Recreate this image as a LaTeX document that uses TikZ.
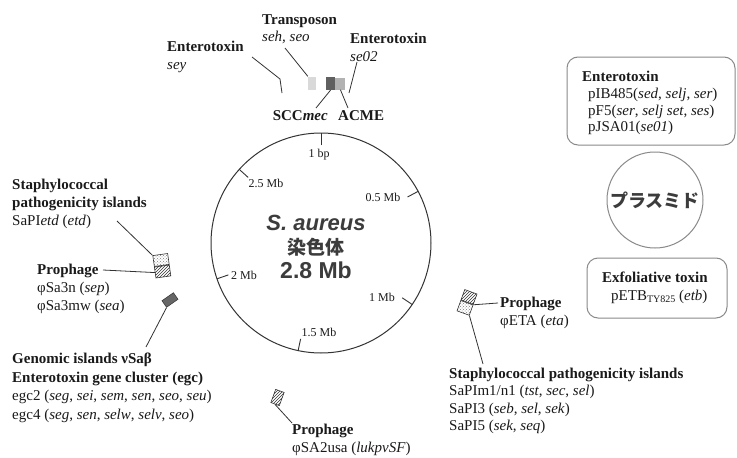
\documentclass[tikz,border=0pt]{standalone}
\usepackage{fontspec}
\setmainfont{Liberation Serif}
\newfontfamily\sansfont{Liberation Sans}
\newfontfamily\cjkfont{Noto Sans CJK JP}
\usetikzlibrary{patterns}
\definecolor{txt}{HTML}{1A1A1A}
\definecolor{ln}{HTML}{333333}
\definecolor{boxln}{HTML}{8A8A8A}
\definecolor{ctr}{HTML}{3C3C3C}
\begin{document}
\begin{tikzpicture}[x=1pt,y=-1pt,
 every node/.style={inner sep=0pt,text=txt},
 lbl/.style={anchor=north west,align=left,font=\fontsize{15}{17.5}\selectfont},
 tk/.style={font=\fontsize{12}{14}\selectfont},
 leader/.style={draw=ln,line width=0.8pt},
 plbox/.style={draw=boxln,line width=1pt,rounded corners=11pt},
 hatchbox/.style={draw=ln,line width=0.6pt,pattern=north east lines,pattern color=ln},
 dotbox/.style={draw=ln,line width=0.6pt,pattern=crosshatch dots,pattern color=gray},
 ctrtxt/.style={text=ctr}]
\useasboundingbox (0,0) rectangle (737,458);
\fill[white] (0,0) rectangle (737,458);

% ---------- chromosome ----------
\node[circle,draw=ln,line width=1pt,minimum size=220pt] (chr) at (321,243) {};
\foreach \a in {-90,-28,34,102,161,222}
  \draw[leader,line width=0.9pt] ([shift={(\a:98)}]chr.center) -- ([shift={(\a:110)}]chr.center);
\node[tk] (t0) at (319,155) {1 bp};
\node[tk] (t05) at (383,197) {0.5 Mb};
\node[tk] (t1) at (382,297) {1 Mb};
\node[tk] (t15) at (319,332) {1.5 Mb};
\node[tk] (t2) at (244,275) {2 Mb};
\node[tk] (t25) at (266,183) {2.5 Mb};
\node[ctrtxt,font=\sansfont\bfseries\itshape\fontsize{22}{24}\selectfont] (sa) at (316,223) {S. aureus};
\node[ctrtxt,font=\cjkfont\bfseries\fontsize{19}{21}\selectfont] (sen) at (316,247) {染色体};
\node[ctrtxt,font=\sansfont\bfseries\fontsize{23}{25}\selectfont] (mb) at (316,270) {2.8 Mb};

% ---------- top cluster ----------
\node[lbl] (entL) at (167,41) {\textbf{Enterotoxin}\\\textit{sey}};
\node[lbl] (trans) at (262,14) {\textbf{Transposon}\\\textit{seh, seo}};
\node[lbl] (entR) at (350,33) {\textbf{Enterotoxin}\\\textit{se02}};
\coordinate (seyA) at (252,57);
\coordinate (seyB) at (280,79);
\coordinate (seyC) at (282,93);
\draw[leader] (seyA) -- (seyB) -- (seyC);
\node[fill=gray!30,minimum width=8pt,minimum height=13pt] (tbox) at (312,83) {};
\coordinate (transA) at (285,48);
\draw[leader] (transA) -- (tbox.north west);
\node[fill=gray!75!black,minimum width=9pt,minimum height=13pt] (sccbox) at (330.5,83.5) {};
\node[fill=gray!60,minimum width=10pt,minimum height=12pt,anchor=west] (acmebox) at (sccbox.east) {};
\coordinate (se02A) at (357,62);
\coordinate (se02B) at (349,93);
\draw[leader] (se02A) -- (se02B);
\node[anchor=base east,font=\fontsize{15}{17}\selectfont\bfseries] (scc) at (328,120) {SCC\textit{mec}};
\node[anchor=base west,font=\fontsize{15}{17}\selectfont\bfseries] (acme) at (338,120) {ACME};
\draw[leader] (sccbox.south) -- (316,108);
\draw[leader] (acmebox.south) -- (348,108);

% ---------- left side ----------
\node[lbl,font=\fontsize{15}{18}\selectfont] (sapiL) at (12,179) {\textbf{Staphylococcal}\\\textbf{pathogenicity islands}\\SaPI\textit{etd} (\textit{etd})};
\node[dotbox,minimum width=15pt,minimum height=11pt,rotate=8] (sbA) at (161,260) {};
\node[hatchbox,minimum width=15pt,minimum height=11pt,rotate=8,anchor=north] (sbB) at (sbA.south) {};
\coordinate (sapiE) at (117,221);
\draw[leader] (sapiE) -- (sbA.north west);
\node[lbl,font=\fontsize{15}{18}\selectfont] (proL) at (37,264) {\textbf{Prophage}\\φSa3n (\textit{sep})\\φSa3mw (\textit{sea})};
\coordinate (proLE) at (103,270);
\draw[leader] (proLE) -- (sbB.west);
\node[draw=ln,line width=0.5pt,fill=gray!80!black,minimum width=14pt,minimum height=8pt,rotate=35] (egcbox) at (170,300) {};
\coordinate (egcE) at (146,347);
\draw[leader] (egcbox.south west) -- (egcE);
\node[lbl,font=\fontsize{15}{18.5}\selectfont] (egc) at (12,353) {\textbf{Genomic islands νSaβ}\\\textbf{Enterotoxin gene cluster (egc)}\\egc2 (\textit{seg}, \textit{sei}, \textit{sem}, \textit{sen}, \textit{seo}, \textit{seu})\\egc4 (\textit{seg}, \textit{sen}, \textit{selw}, \textit{selv}, \textit{seo})};

% ---------- right side (phiETA) ----------
\node[hatchbox,minimum width=13pt,minimum height=11pt,rotate=-20] (eA) at (469,297) {};
\node[dotbox,minimum width=13pt,minimum height=11pt,rotate=-20,anchor=north] (eB) at (eA.south) {};
\coordinate (proRE) at (498,303);
\draw[leader] (eA.south east) -- (proRE);
\node[lbl] (proR) at (500,297) {\textbf{Prophage}\\φETA (\textit{eta})};
\coordinate (sapiRE) at (483,364);
\draw[leader] (eB.south east) -- (sapiRE);
\node[lbl,font=\fontsize{15}{17.3}\selectfont] (sapiR) at (449,368) {\textbf{Staphylococcal pathogenicity islands}\\SaPIm1/n1 (\textit{tst}, \textit{sec}, \textit{sel})\\SaPI3 (\textit{seb}, \textit{sel}, \textit{sek})\\SaPI5 (\textit{sek}, \textit{seq})};

% ---------- bottom ----------
\node[hatchbox,minimum width=9pt,minimum height=14pt,rotate=-20] (bbox) at (277.5,397.5) {};
\coordinate (proBE) at (292,423);
\draw[leader] (bbox.south) -- (proBE);
\node[lbl] (proB) at (292,424) {\textbf{Prophage}\\φSA2usa (\textit{lukpvSF})};

% ---------- plasmids ----------
\node[plbox,minimum width=168pt,minimum height=88pt] (entbox) at (651,101) {};
\node[lbl,font=\fontsize{15}{16.7}\selectfont] (enttxt) at (582,71) {\textbf{Enterotoxin}\\\hspace*{6pt}pIB485(\textit{sed}, \textit{selj}, \textit{ser})\\\hspace*{6pt}pF5(\textit{ser}, \textit{selj set}, \textit{ses})\\\hspace*{6pt}pJSA01(\textit{se01})};
\node[circle,draw=boxln,line width=1pt,minimum size=96pt,ctrtxt,font=\cjkfont\bfseries\fontsize{18}{20}\selectfont] (pl) at (655,200) {プラスミド};
\node[plbox,minimum width=140pt,minimum height=60pt] (exbox) at (657,288) {};
\node[lbl,font=\fontsize{15}{18}\selectfont] (extxt) at (602,272) {\textbf{Exfoliative toxin}\\\hspace*{9pt}pETB\raisebox{-1.5pt}{\fontsize{10}{12}\selectfont TY825} (\textit{etb})};
\end{tikzpicture}
\end{document}
